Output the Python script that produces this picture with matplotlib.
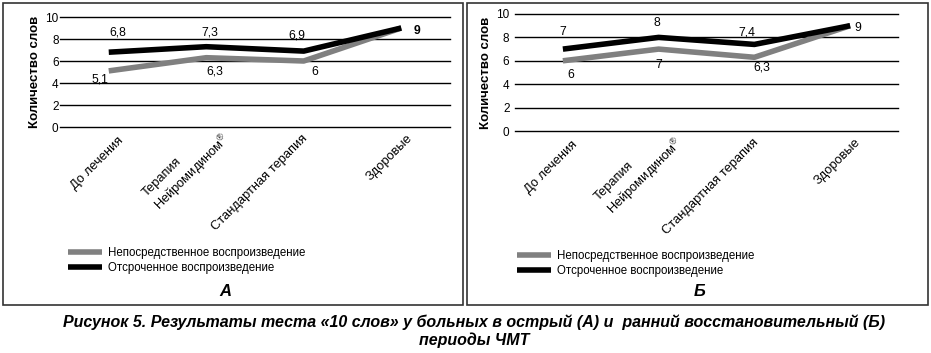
import matplotlib
matplotlib.use('Agg')
from matplotlib import pyplot as plt
from matplotlib.patches import Rectangle
from matplotlib.transforms import ScaledTranslation

# данные
categories = ['До лечения', 'Терапия\nНейромидином$^{®}$', 'Стандартная терапия', 'Здоровые']
series_names = ['Непосредственное воспроизведение', 'Отсроченное воспроизведение']

# А - острый период
a_immediate = [5.1, 6.3, 6.0, 9.0]
a_delayed = [6.8, 7.3, 6.9, 9.0]
# Б - ранний восстановительный период
b_immediate = [6.0, 7.0, 6.3, 9.0]
b_delayed = [7.0, 8.0, 7.4, 9.0]

y_ticks = [0, 2, 4, 6, 8, 10]

caption = ('Рисунок 5. Результаты теста «10 слов» у больных в острый (А) и  ранний восстановительный (Б)\n'
           'периоды ЧМТ')

plt.rcParams['font.family'] = ['Liberation Sans', 'DejaVu Sans']
plt.rcParams['font.size'] = 8.5
plt.rcParams['mathtext.fontset'] = 'custom'
plt.rcParams['mathtext.rm'] = 'Liberation Sans'
plt.rcParams['mathtext.it'] = 'Liberation Sans:italic'
plt.rcParams['mathtext.bf'] = 'Liberation Sans:bold'

fig = plt.figure(figsize=(9.31, 3.53), dpi=100)

# сдвиг подписей категорий (пиксели)
label_shift_x = [13, 17, 2, 9]
label_shift_y = [-7, 0, -5, -5]


def fmt(v):
    return f'{v:g}'.replace('.', ',')


def draw_panel(ax, immediate, delayed, offs_imm, offs_del, show_imm, bold_last, ypad, leg_pos):
    x = range(len(categories))
    ax.plot(x, immediate, color='#808080', lw=4, solid_capstyle='butt', zorder=3)
    ax.plot(x, delayed, color='black', lw=4, solid_capstyle='butt', zorder=4)
    ax.set_xlim(-0.5, len(categories) - 0.5)
    ax.set_ylim(0, 10)
    ax.set_yticks(y_ticks)
    ax.grid(axis='y', color='black', lw=1)
    for gl in ax.get_ygridlines():
        gl.set_clip_on(False)
    ax.set_axisbelow(True)
    for s in ax.spines.values():
        s.set_visible(False)
    ax.tick_params(length=0, labelsize=8.5)
    ax.tick_params(axis='y', pad=ypad)
    ax.set_xticks(list(x))
    ax.set_xticklabels(categories, rotation=45, ha='right', rotation_mode='anchor',
                       va='center', fontsize=9.3, multialignment='left')
    for lab, sx, sy in zip(ax.get_xticklabels(), label_shift_x, label_shift_y):
        shift = ScaledTranslation(sx / 100, sy / 100, fig.dpi_scale_trans)
        lab.set_transform(lab.get_transform() + shift)
    ax.set_ylabel('Количество слов', fontsize=9.5, fontweight='bold')

    for i, v in enumerate(immediate):
        if show_imm[i]:
            ax.annotate(fmt(v), (i, v), xytext=offs_imm[i], textcoords='offset pixels',
                        ha='center', va='center', fontsize=8.8)
    for i, v in enumerate(delayed):
        w = 'bold' if (bold_last and i == len(delayed) - 1) else 'normal'
        ax.annotate(fmt(v), (i, v), xytext=offs_del[i], textcoords='offset pixels',
                    ha='center', va='center', fontsize=8.8, fontweight=w)

    ax.legend(series_names, loc='upper left', bbox_to_anchor=leg_pos,
              bbox_transform=fig.transFigure, borderpad=0,
              frameon=False, handlelength=2.95, fontsize=8.3, labelspacing=0.28,
              handletextpad=0.5, borderaxespad=0)


# панель А
ax1 = fig.add_axes([60 / 931, 1 - 127 / 353, 390 / 931, 110 / 353])
draw_panel(ax1, a_immediate, a_delayed,
           [(-9, -9), (9, -14), (11, -11), (0, 0)],
           [(9, 20), (4, 14), (-7, 16), (16, -3)],
           [True, True, True, False], True, 1,
           (68 / 931, 1 - 247 / 353))
ax1.yaxis.set_label_coords(-0.049, 0.5)

# панель Б
ax2 = fig.add_axes([515 / 931, 1 - 131 / 353, 383 / 931, 117 / 353])
draw_panel(ax2, b_immediate, b_delayed,
           [(8, -14), (0, -16), (7, -10), (0, 0)],
           [(0, 17), (-2, 14), (-8, 12), (8, -2)],
           [True, True, True, False], False, 4,
           (517 / 931, 1 - 250 / 353))
ax2.yaxis.set_label_coords(-0.06, 0.5)

# рамки панелей
fig.add_artist(Rectangle((3 / 931, 1 - 305 / 353), 460 / 931, 302 / 353,
                         transform=fig.transFigure, fill=False, ec='#333333', lw=1.2))
fig.add_artist(Rectangle((467 / 931, 1 - 305 / 353), 461 / 931, 302 / 353,
                         transform=fig.transFigure, fill=False, ec='#333333', lw=1.2))

fig.text(225 / 931, 1 - 291 / 353, 'А', fontsize=12, fontweight='bold', style='italic',
         ha='center', va='center')
fig.text(700 / 931, 1 - 291 / 353, 'Б', fontsize=12, fontweight='bold', style='italic',
         ha='center', va='center')

fig.text(474 / 931, 1 - 331 / 353, caption, ha='center', va='center', fontsize=11.5,
         fontweight='bold', style='italic', linespacing=1.15,
         family=['Liberation Sans Narrow', 'Liberation Sans', 'DejaVu Sans'])

fig.savefig('out.png', dpi=100)
plt.close()
